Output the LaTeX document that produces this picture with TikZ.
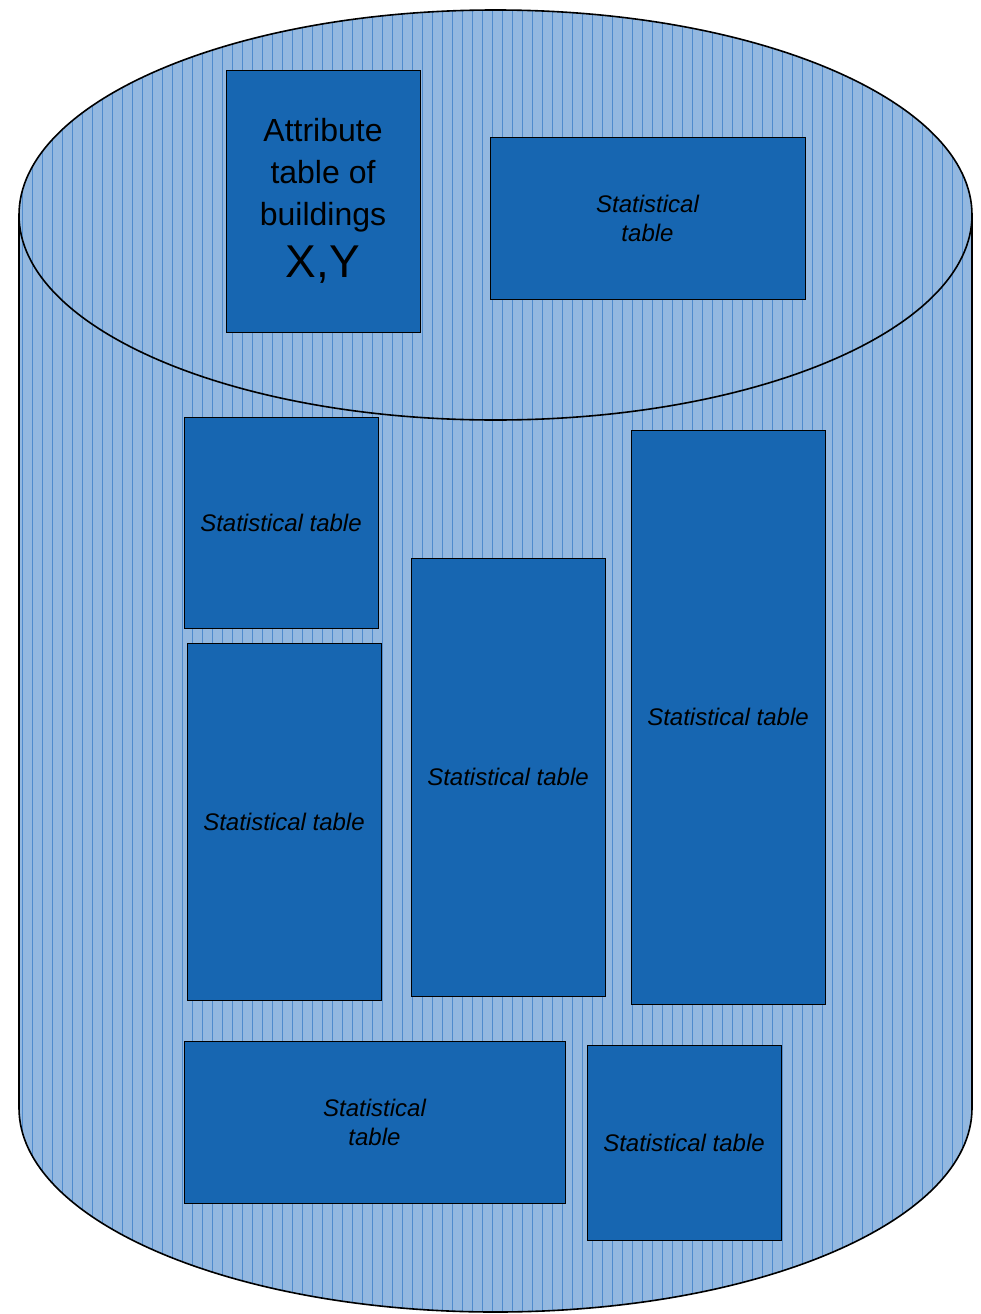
\documentclass[tikz,border=0pt]{standalone}
\usepackage{fontspec}
\setmainfont{Liberation Sans}
\definecolor{tabblue}{HTML}{1766B1}
\definecolor{cylfill}{HTML}{93B8E0}
\definecolor{cylline}{HTML}{4F8BCD}

\begin{document}
\begin{tikzpicture}[x=1pt, y=-1pt,
  tab/.style={draw=black, fill=tabblue, inner sep=0pt, align=center},
  stattab/.style={tab, font=\fontsize{24}{29}\selectfont\itshape}]
 \useasboundingbox (0,0) rectangle (980,1314);
 % cylinder, hatched fill
 \path[fill=cylfill] (19,215) -- (19,1108)
   arc[start angle=180, end angle=0, x radius=476.5, y radius=204]
   -- (972,215) arc[start angle=0, end angle=-180, x radius=476.5, y radius=205] -- cycle;
 \begin{scope}
  \clip (19,215) -- (19,1108)
   arc[start angle=180, end angle=0, x radius=476.5, y radius=204]
   -- (972,215) arc[start angle=0, end angle=-180, x radius=476.5, y radius=205] -- cycle;
  \foreach \x in {22,32,...,972}
   \draw[cylline, line width=0.7] (\x,0) -- (\x,1314);
 \end{scope}
 \draw[line width=1.6] (19,215) -- (19,1108)
   arc[start angle=180, end angle=0, x radius=476.5, y radius=204] -- (972,215);
 \draw[line width=1.6] (495.5,215) ellipse[x radius=476.5, y radius=205];
 % tables
 \node[tab, minimum width=194, minimum height=262, font=\fontsize{32}{42}\selectfont] (attr) at (323,201)
  {Attribute\\table of\\buildings\\[10pt]{\fontsize{46}{50}\selectfont X,Y}};
 \node[stattab, minimum width=315, minimum height=162] (sttop) at (647.5,218) {Statistical\\ table};
 \node[stattab, minimum width=194, minimum height=211] (st1) at (281,522.5) {Statistical table};
 \node[stattab, minimum width=194, minimum height=357] (st2) at (284,821.5) {Statistical table};
 \node[stattab, minimum width=194, minimum height=438] (st3) at (508,777) {Statistical table};
 \node[stattab, minimum width=194, minimum height=574] (st4) at (728,717) {Statistical table};
 \node[stattab, minimum width=381, minimum height=162] (st5) at (374.5,1122) {Statistical\\ table};
 \node[stattab, minimum width=194, minimum height=195] (st6) at (684,1142.5) {Statistical table};
\end{tikzpicture}
\end{document}
